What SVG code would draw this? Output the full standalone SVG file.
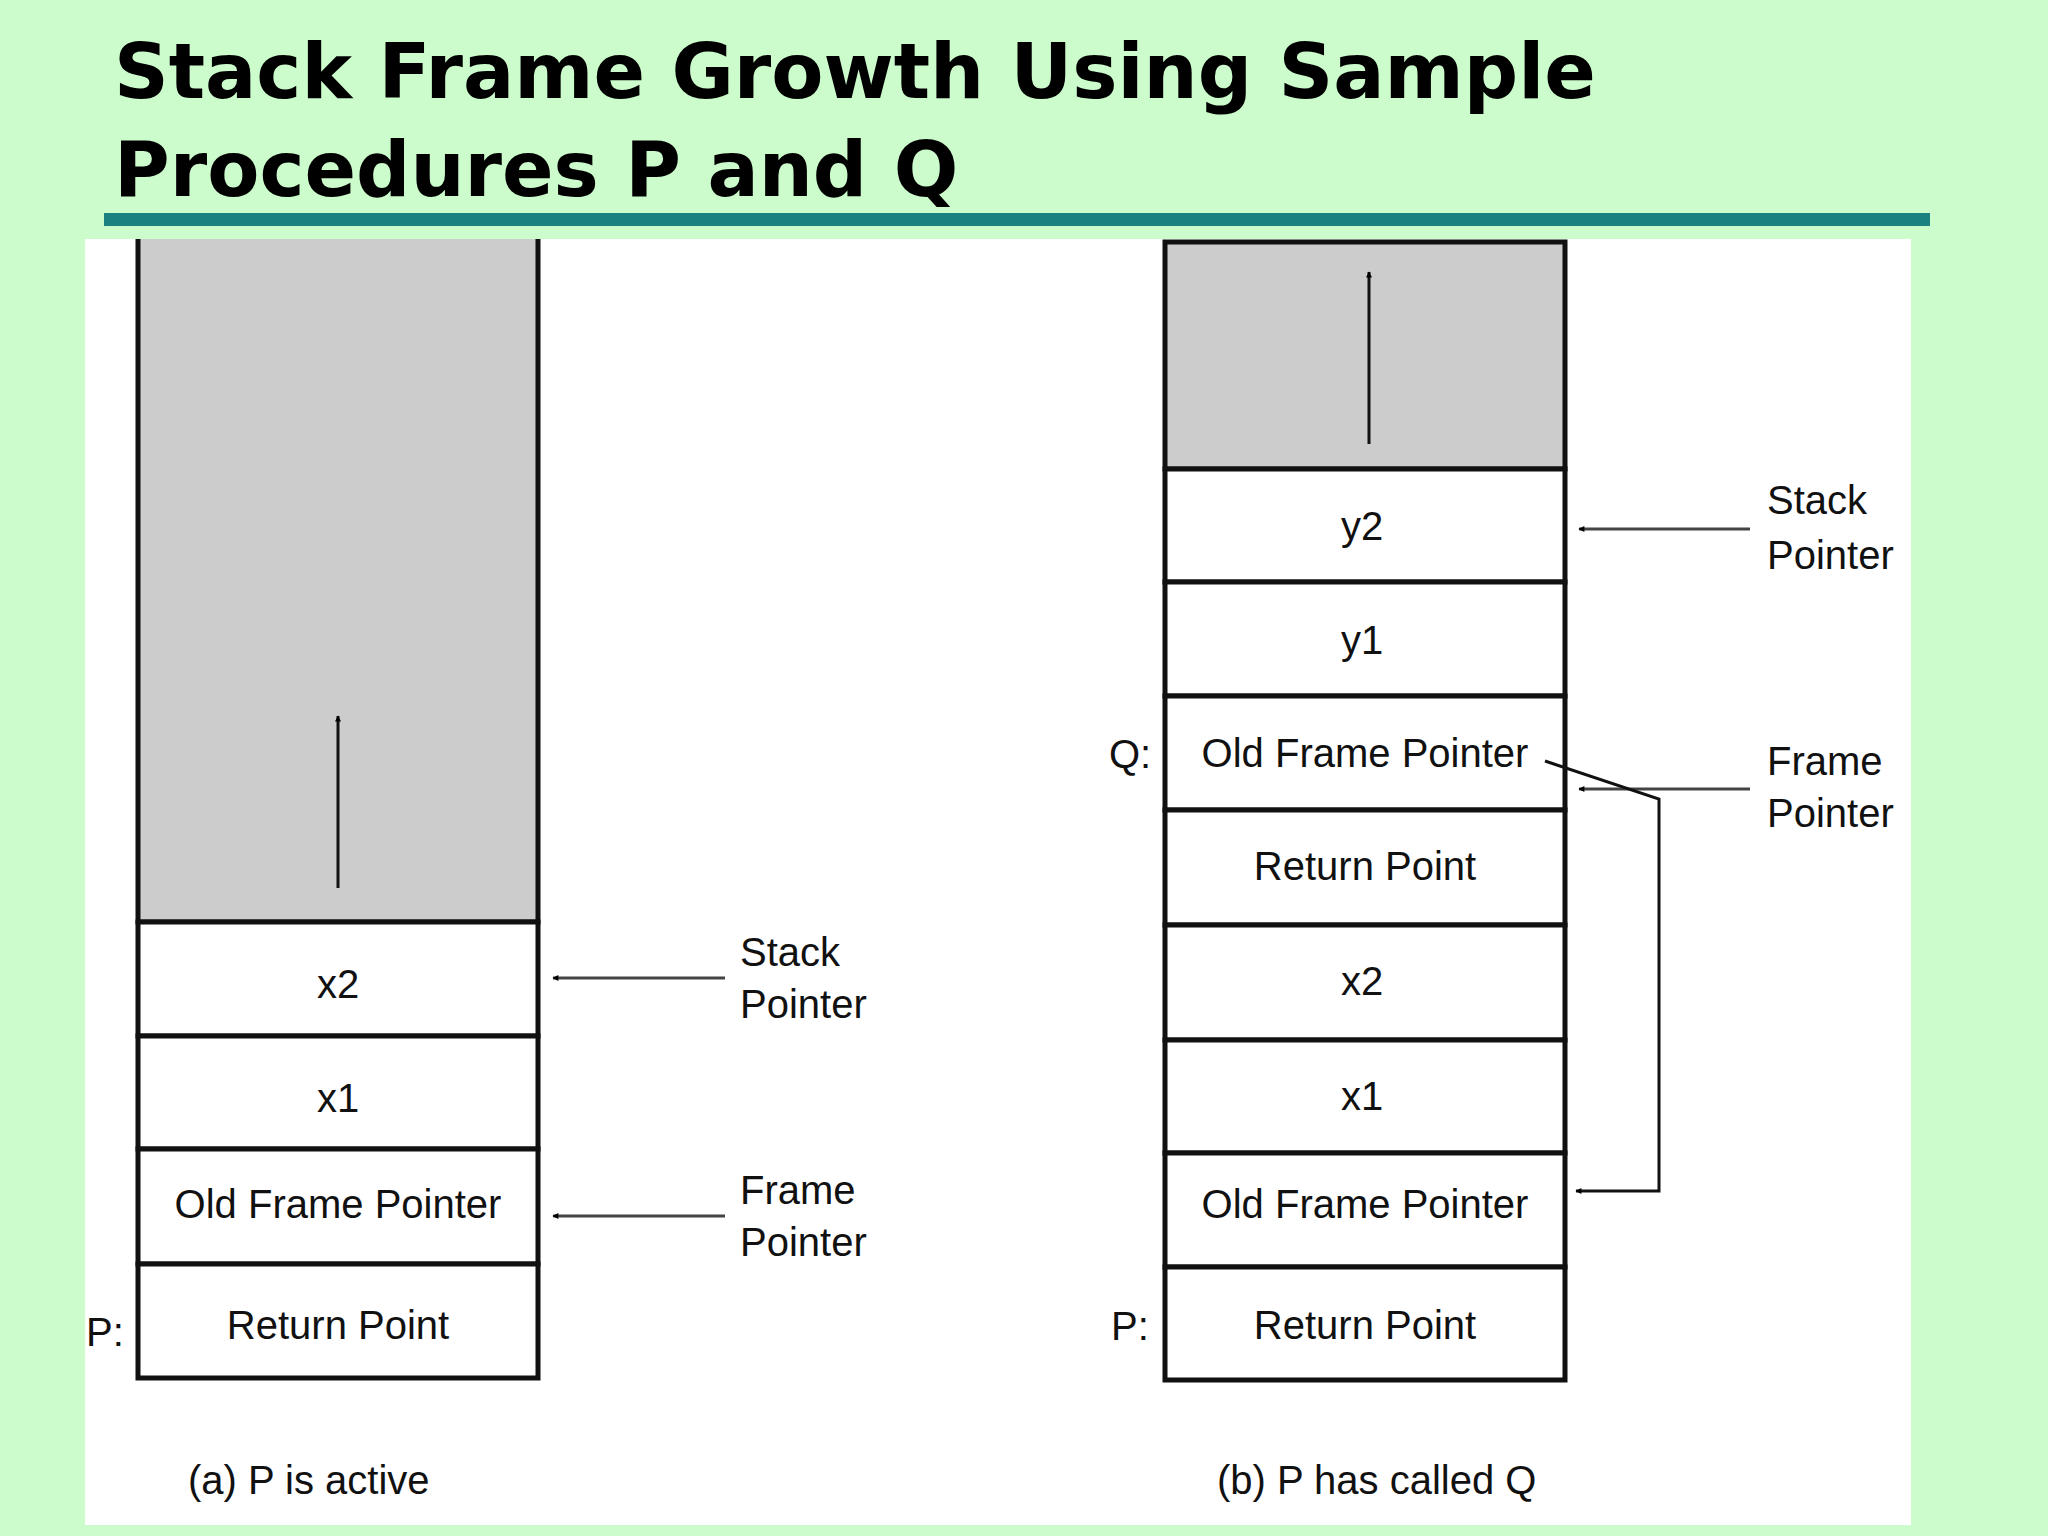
<svg xmlns="http://www.w3.org/2000/svg" width="2048" height="1536" viewBox="0 0 2048 1536">
<defs>
<marker id="ah" viewBox="0 0 10 10" refX="9" refY="5" markerWidth="6" markerHeight="6" orient="auto" markerUnits="userSpaceOnUse" style="overflow:visible"><path d="M0,0 L10,5 L0,10 z" fill="#000"/></marker>
<style>
.t{font-family:"Liberation Sans",Arial,sans-serif;font-size:40px;fill:#111}
.c{text-anchor:middle}
.cell{fill:#fff;stroke:#111;stroke-width:5}
.gray{fill:#cccccc;stroke:#111;stroke-width:5}
.ln{stroke:#444;stroke-width:3;fill:none}
.arr{stroke:#111;stroke-width:3;fill:none}
</style>
</defs>
<rect width="2048" height="1536" fill="#ccfccc"/>
<text x="114" y="98" font-family="'DejaVu Sans',sans-serif" font-weight="bold" font-size="76" fill="#000">Stack Frame Growth Using Sample</text>
<text x="114" y="196" font-family="'DejaVu Sans',sans-serif" font-weight="bold" font-size="76" fill="#000">Procedures P and Q</text>
<rect x="104" y="213" width="1826" height="13" fill="#1a8080"/>
<rect x="85" y="239" width="1826" height="1286" fill="#fff"/>
<g id="left-stack">
<path class="gray" d="M138,239 V922 H538 V239"/>
<line class="arr" x1="338" y1="888" x2="338" y2="716" marker-end="url(#ah)"/>
<rect class="cell" x="138" y="922" width="400" height="114"/><text class="t c" x="338" y="998">x2</text>
<rect class="cell" x="138" y="1036" width="400" height="113"/><text class="t c" x="338" y="1112">x1</text>
<rect class="cell" x="138" y="1149" width="400" height="115"/><text class="t c" x="338" y="1218">Old Frame Pointer</text>
<rect class="cell" x="138" y="1264" width="400" height="114"/><text class="t c" x="338" y="1339">Return Point</text>
<text class="t" x="86" y="1346">P:</text>
<text class="t" x="188" y="1494">(a) P is active</text>
</g>
<g id="right-stack">
<rect class="gray" x="1165" y="242" width="400" height="227"/>
<line class="arr" x1="1369" y1="444" x2="1369" y2="272" marker-end="url(#ah)"/>
<rect class="cell" x="1165" y="469" width="400" height="113"/><text class="t c" x="1362" y="540">y2</text>
<rect class="cell" x="1165" y="582" width="400" height="114"/><text class="t c" x="1362" y="654">y1</text>
<rect class="cell" x="1165" y="696" width="400" height="114"/><text class="t c" x="1365" y="767">Old Frame Pointer</text>
<rect class="cell" x="1165" y="810" width="400" height="115"/><text class="t c" x="1365" y="880">Return Point</text>
<rect class="cell" x="1165" y="925" width="400" height="115"/><text class="t c" x="1362" y="995">x2</text>
<rect class="cell" x="1165" y="1040" width="400" height="113"/><text class="t c" x="1362" y="1110">x1</text>
<rect class="cell" x="1165" y="1153" width="400" height="114"/><text class="t c" x="1365" y="1218">Old Frame Pointer</text>
<rect class="cell" x="1165" y="1267" width="400" height="113"/><text class="t c" x="1365" y="1339">Return Point</text>
<text class="t" x="1109" y="768">Q:</text>
<text class="t" x="1111" y="1340">P:</text>
<text class="t" x="1217" y="1494">(b) P has called Q</text>
</g>
<g id="labels">
<text class="t" x="740" y="966">Stack</text><text class="t" x="740" y="1018">Pointer</text>
<text class="t" x="740" y="1204">Frame</text><text class="t" x="740" y="1256">Pointer</text>
<text class="t" x="1767" y="514">Stack</text><text class="t" x="1767" y="569">Pointer</text>
<text class="t" x="1767" y="775">Frame</text><text class="t" x="1767" y="827">Pointer</text>
</g>
<g id="connectors">
<line class="ln" x1="725" y1="978" x2="553" y2="978" marker-end="url(#ah)"/>
<line class="ln" x1="725" y1="1216" x2="553" y2="1216" marker-end="url(#ah)"/>
<line class="ln" x1="1750" y1="529" x2="1579" y2="529" marker-end="url(#ah)"/>
<line class="ln" x1="1750" y1="789" x2="1579" y2="789" marker-end="url(#ah)"/>
<polyline class="arr" points="1545,761 1659,799 1659,1191 1576,1191" marker-end="url(#ah)"/>
</g>
</svg>
